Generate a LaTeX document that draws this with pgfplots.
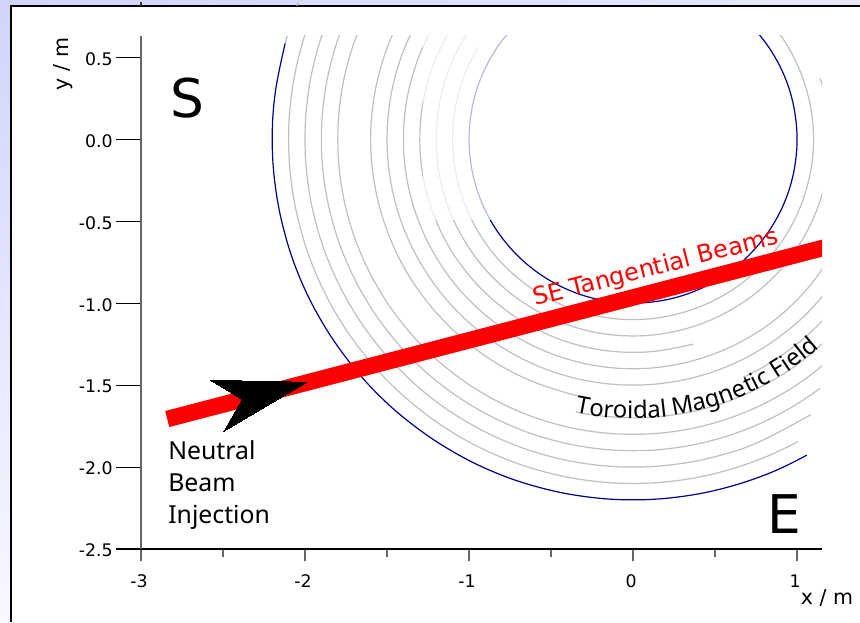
\documentclass[border=0pt]{standalone}
\usepackage{fontspec}
\setmainfont{DejaVu Sans}
\newfontfamily\noto{Noto Sans}
\usepackage{pgfplots}
\pgfplotsset{compat=1.18}
\usetikzlibrary{decorations.text,shadings}
\definecolor{arcgrey}{RGB}{192,192,192}
\definecolor{ringblue}{RGB}{0,0,139}
\definecolor{bgA}{RGB}{208,212,252}
\definecolor{bgB}{RGB}{232,234,250}
\definecolor{bgC}{RGB}{248,248,255}
\begin{document}
\begin{tikzpicture}[x=0.75pt,y=0.75pt]
\useasboundingbox (0,0) rectangle (860,622);
\shade[upper left=bgA,upper right=bgB,lower left=bgC,lower right=bgC] (0,0) rectangle (860,622);
\fill[white] (11,0) rectangle (860,616);
\draw[black,line width=1.5pt] (11,0) -- (11,616) -- (860,616);
\draw[black!80,line width=0.9pt] (141,616) -- (141,619.5);
\draw[black!30,line width=0.9pt] (297,616) -- (298,619.5);

\begin{axis}[
  at={(105.75pt,54.75pt)},anchor=south west,scale only axis,width=510.75pt,height=384.75pt,
  xmin=-3,xmax=1.152,ymin=-2.5,ymax=0.63,
  axis x line*=bottom,axis y line=none,
  xtick={-3,-2,-1,0,1},xticklabels={-3,-2,-1,0,1},
  minor xtick={-2.5,-1.5,-0.5,0.5},
  tick align=outside,major tick length=9pt,minor tick length=6pt,
  xtick style={black!60,line width=1pt},
  minor x tick style={black!60,line width=1pt},
  x axis line style={black,line width=0.8pt,-},
  xticklabel style={font=\fontsize{13}{15}\selectfont,yshift=-6.5pt,xshift=-1.5pt},
  xlabel={x / m},
  every axis x label/.style={at={(axis description cs:0.9687,-0.1078)},anchor=base west,inner sep=0pt,font=\fontsize{15.4}{18}\selectfont},
  grey/.style={arcgrey,line width=0.9pt,smooth,tension=0.65,no marks},
  blue ring/.style={ringblue,line width=0.9pt,smooth,tension=0.65,no marks},
]
\addplot[grey] coordinates {(-2.108,0.63)(-2.121,0.585)};
\addplot[grey] coordinates {(-1.819,1.05)(-1.94,0.804)(-2.028,0.544)(-2.082,0.274)(-2.1,0)(-2.082,-0.274)(-2.028,-0.544)(-1.94,-0.804)(-1.819,-1.05)(-1.666,-1.278)(-1.485,-1.485)(-1.278,-1.666)(-1.05,-1.819)(-0.804,-1.94)(-0.544,-2.028)(-0.274,-2.082)(0,-2.1)(0.274,-2.082)(0.544,-2.028)(0.804,-1.94)(1.006,-1.845)};
\addplot[grey] coordinates {(-1.732,1)(-1.848,0.765)(-1.932,0.518)(-1.983,0.261)(-2,0)(-1.983,-0.261)(-1.932,-0.518)(-1.848,-0.765)(-1.732,-1)(-1.587,-1.218)(-1.414,-1.414)(-1.218,-1.587)(-1,-1.732)(-0.765,-1.848)(-0.518,-1.932)(-0.261,-1.983)(0,-2)(0.261,-1.983)(0.518,-1.932)(0.765,-1.848)(1.085,-1.680)};
\addplot[grey] coordinates {(-1.645,0.95)(-1.755,0.727)(-1.835,0.492)(-1.884,0.248)(-1.9,0)(-1.884,-0.248)(-1.835,-0.492)(-1.755,-0.727)(-1.645,-0.95)(-1.507,-1.157)(-1.344,-1.344)(-1.157,-1.507)(-0.95,-1.645)(-0.727,-1.755)(-0.492,-1.835)(-0.248,-1.884)(0,-1.9)(0.248,-1.884)(0.492,-1.835)(0.727,-1.755)(0.95,-1.645)(1.14,-1.52)};
\addplot[grey] coordinates {(-1.559,0.9)(-1.663,0.689)(-1.739,0.466)(-1.785,0.235)(-1.8,0)(-1.785,-0.235)(-1.739,-0.466)(-1.663,-0.689)(-1.559,-0.9)(-1.428,-1.096)(-1.273,-1.273)(-1.096,-1.428)(-0.9,-1.559)(-0.689,-1.663)(-0.466,-1.739)(-0.235,-1.785)(0,-1.8)(0.235,-1.785)(0.466,-1.739)(0.689,-1.663)(0.9,-1.559)(1.096,-1.428)(1.273,-1.273)};
\addplot[grey] coordinates {(-0.348,-1.664)(-0.222,-1.685)(0,-1.7)(0.222,-1.685)(0.44,-1.642)(0.651,-1.571)(0.85,-1.472)(1.035,-1.349)(1.202,-1.202)};
\addplot[grey] coordinates {(-1.386,0.8)(-1.478,0.612)(-1.545,0.414)(-1.586,0.209)(-1.6,0)(-1.586,-0.209)(-1.545,-0.414)(-1.478,-0.612)(-1.386,-0.8)(-1.269,-0.974)(-1.131,-1.131)(-0.974,-1.269)(-0.8,-1.386)(-0.612,-1.478)(-0.414,-1.545)(-0.33,-1.566)};
\addplot[grey] coordinates {(0.67,-1.453)(0.8,-1.386)(0.974,-1.269)(1.131,-1.131)(1.269,-0.974)};
\addplot[grey] coordinates {(-1.299,0.75)(-1.386,0.574)(-1.449,0.388)(-1.487,0.196)(-1.5,0)(-1.487,-0.196)(-1.449,-0.388)(-1.386,-0.574)(-1.299,-0.75)(-1.19,-0.913)(-1.061,-1.061)(-0.913,-1.19)(-0.75,-1.299)(-0.574,-1.386)(-0.388,-1.449)(-0.196,-1.487)(0,-1.5)(0.196,-1.487)(0.388,-1.449)(0.574,-1.386)(0.75,-1.299)(0.913,-1.19)(1.061,-1.061)(1.19,-0.913)(1.299,-0.75)};
\addplot[grey] coordinates {(-1.212,0.7)(-1.293,0.536)(-1.352,0.362)(-1.388,0.183)(-1.4,0)(-1.388,-0.183)(-1.352,-0.362)(-1.293,-0.536)(-1.212,-0.7)(-1.111,-0.852)(-0.99,-0.99)(-0.852,-1.111)(-0.7,-1.212)(-0.536,-1.293)(-0.362,-1.352)(-0.183,-1.388)(0,-1.4)(0.183,-1.388)(0.362,-1.352)(0.536,-1.293)(0.7,-1.212)(0.852,-1.111)(0.99,-0.99)(1.111,-0.852)(1.212,-0.7)};
\addplot[grey] coordinates {(-1.126,0.65)(-1.201,0.497)(-1.256,0.336)(-1.289,0.17)(-1.3,0)(-1.289,-0.17)(-1.256,-0.336)(-1.201,-0.497)(-1.126,-0.65)(-1.031,-0.791)(-0.919,-0.919)(-0.791,-1.031)(-0.65,-1.126)(-0.497,-1.201)(-0.336,-1.256)(-0.17,-1.289)(0,-1.3)(0.17,-1.289)(0.366,-1.25)};
\addplot[grey] coordinates {(-0.849,0.849)(-0.952,0.731)(-1.039,0.6)(-1.109,0.459)(-1.159,0.311)(-1.19,0.157)(-1.2,0)(-1.19,-0.157)(-1.159,-0.311)(-1.109,-0.459)(-1.039,-0.6)(-0.952,-0.731)(-0.849,-0.849)(-0.731,-0.952)(-0.6,-1.039)(-0.459,-1.109)(-0.311,-1.159)(-0.157,-1.19)(0,-1.2)(0.157,-1.19)(0.311,-1.159)(0.459,-1.109)(0.6,-1.039)(0.731,-0.952)(0.849,-0.849)(0.952,-0.731)(1.039,-0.6)(1.109,-0.459)(1.159,-0.311)(1.19,-0.157)(1.2,0)(1.19,0.157)(1.159,0.311)(1.14,0.37)};
\addplot[grey] coordinates {(-0.945,0.56)(-1.016,0.421)(-1.062,0.285)(-1.091,0.144)(-1.1,0)(-1.091,-0.144)(-1.062,-0.285)(-1.016,-0.421)(-0.953,-0.55)(-0.873,-0.67)(-0.778,-0.778)(-0.67,-0.873)(-0.55,-0.953)(-0.421,-1.016)(-0.285,-1.062)(-0.144,-1.091)(0,-1.1)(0.144,-1.091)(0.285,-1.062)(0.421,-1.016)(0.55,-0.953)(0.67,-0.873)(0.778,-0.778)(0.873,-0.67)(0.953,-0.55)(1.016,-0.421)(1.062,-0.285)(1.091,-0.144)(1.1,0)(1.091,0.144)(1.062,0.285)(1.016,0.421)(0.953,0.55)(0.873,0.67)(0.778,0.778)};
\addplot[blue ring] coordinates {(-2.121,0.585)(-2.181,0.287)(-2.2,0)(-2.181,-0.287)(-2.125,-0.569)(-2.033,-0.842)(-1.905,-1.1)(-1.745,-1.339)(-1.556,-1.556)(-1.339,-1.745)(-1.1,-1.905)(-0.842,-2.033)(-0.569,-2.125)(-0.287,-2.181)(0,-2.2)(0.287,-2.181)(0.569,-2.125)(0.842,-2.033)(1.06,-1.927)};
\addplot[blue ring] coordinates {(-0.707,0.707)(-0.793,0.609)(-0.866,0.5)(-0.924,0.383)(-0.966,0.259)(-0.991,0.131)(-1,0)(-0.991,-0.131)(-0.966,-0.259)(-0.924,-0.383)(-0.866,-0.5)(-0.793,-0.609)(-0.707,-0.707)(-0.609,-0.793)(-0.5,-0.866)(-0.383,-0.924)(-0.259,-0.966)(-0.131,-0.991)(0,-1)(0.131,-0.991)(0.259,-0.966)(0.383,-0.924)(0.5,-0.866)(0.609,-0.793)(0.707,-0.707)(0.793,-0.609)(0.866,-0.5)(0.924,-0.383)(0.966,-0.259)(0.991,-0.131)(1,0)(0.991,0.131)(0.966,0.259)(0.924,0.383)(0.866,0.5)(0.793,0.609)(0.707,0.707)};
\fill[white,opacity=0.72] (axis cs:-1.28,0.66) rectangle (axis cs:-0.75,-0.494);
\addplot[red,line width=12.4pt,no marks] coordinates {(-2.84,-1.707)(1.3,-0.626)};
\addplot[black,fill=black,line width=0pt,no marks] coordinates {(-1.990,-1.483)(-2.575,-1.471)(-2.383,-1.587)(-2.494,-1.781)} -- cycle;
\end{axis}

\begin{axis}[
  at={(105.75pt,54.75pt)},anchor=south west,scale only axis,width=510.75pt,height=384.75pt,
  xmin=-3,xmax=1.152,ymin=-2.5,ymax=0.63,
  axis x line=none,axis y line*=left,
  ytick={-2.5,-2,-1.5,-1,-0.5,0,0.5},
  yticklabels={-2.5,-2.0,-1.5,-1.0,-0.5,0.0,0.5},
  tick align=outside,major tick length=18.75pt,
  ytick style={black,line width=0.8pt},
  y axis line style={black!60,line width=1.2pt,-},
  yticklabel style={font=\fontsize{13}{15}\selectfont,xshift=1pt,yshift=-1.2pt},
  ylabel={y / m},
  every axis y label/.style={at={(axis description cs:-0.1072,0.9454)},rotate=90,anchor=base,font=\fontsize{15.4}{18}\selectfont},
]
\end{axis}

\node[inner sep=0,font=\fontsize{40}{44}\selectfont] at (187,524) {S};
\node[inner sep=0,font=\fontsize{40}{44}\selectfont] at (784.5,107.5) {E};
\node[inner sep=0,anchor=base west,font=\noto\fontsize{18.6}{22}\selectfont] at (168,163) {Neutral};
\node[inner sep=0,anchor=base west,font=\noto\fontsize{18.6}{22}\selectfont] at (168,130.3) {Beam};
\node[inner sep=0,anchor=base west,font=\noto\fontsize{18.6}{22}\selectfont] at (168,98.3) {Injection};
\node[inner sep=0,anchor=base west,rotate=14.3,text=red,font=\fontsize{18.1}{20}\selectfont] at (535,316) {SE Tangential Beams};
\path[decorate,decoration={text along path,text align=center,
  text={|\noto\fontsize{17.9}{20}\selectfont|Toroidal Magnetic Field}}]
  ([shift={(633,483)}]258.2:209.7pt) arc[start angle=258.2,end angle=311.7,radius=209.7pt];
\end{tikzpicture}
\end{document}
